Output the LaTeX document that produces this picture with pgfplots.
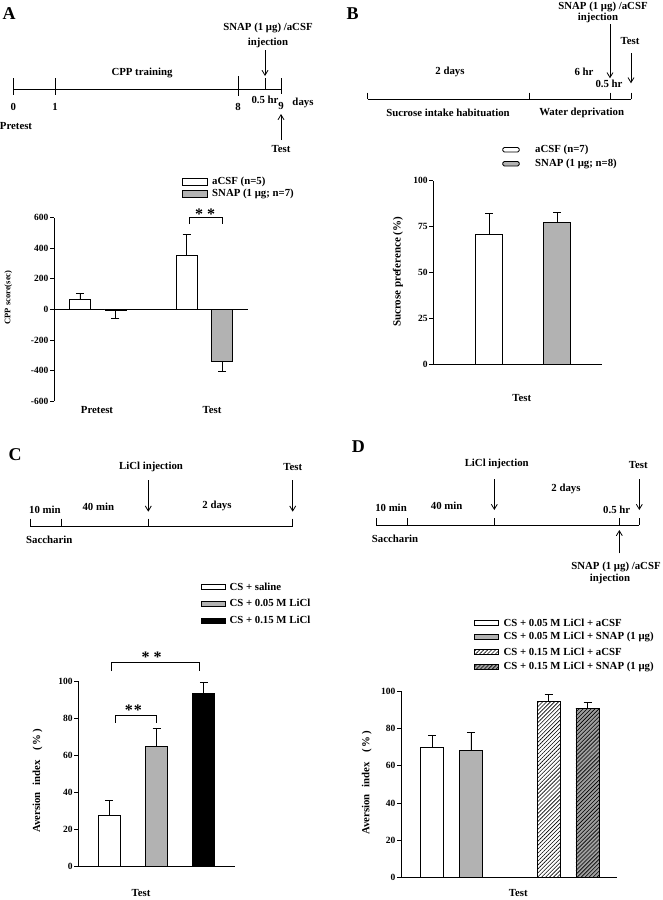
\documentclass[border=0pt]{standalone}
\usepackage{pgfplots}
\pgfplotsset{compat=1.18}
\usepackage{fontspec}
\setmainfont{Liberation Serif}
\usetikzlibrary{patterns.meta,arrows.meta}
\definecolor{bargray}{RGB}{178,178,178}
\definecolor{hatchgray}{RGB}{158,158,158}
\pgfplotsset{
  panel/.style={
    scale only axis, anchor=south west, clip=false,
    axis y line*=left, axis x line*=bottom,
    axis line style={black, line width=0.8pt},
    tick align=outside, major tick length=4pt,
    ytick style={black, line width=0.8pt},
    xtick=\empty,
    tick label style={font=\fontsize{9.5}{10}\selectfont\bfseries},
    yticklabel style={inner sep=1.5pt},
  },
  bars/.style={ybar, bar shift=0pt, draw=black, line width=0.8pt,
    error bars/.cd, y explicit, y dir=#1,
    error bar style={black, line width=0.8pt},
    error mark options={rotate=90, mark size=4pt, black, line width=0.8pt}},
}
\tikzset{hatch/.style={pattern={Lines[angle=45,distance=2.8pt,line width=0.6pt]}},
  arr/.style={line width=0.8pt,-{Straight Barb[length=5pt,width=6pt,line width=0.8pt]}},
  tl/.style={line width=0.8pt},
  stars/.style={font=\fontsize{16}{16}\selectfont\bfseries}}
\begin{document}
\begin{tikzpicture}[font=\fontsize{10.8}{12}\selectfont\bfseries]
\useasboundingbox (0,0) rectangle (663pt,-900pt);

% ---------------- Panel A axis
\begin{axis}[panel, at={(54pt,-401pt)}, width=194pt, height=183.3pt,
  xmin=-0.73, xmax=4.73, ymin=-600, ymax=600, axis x line=none,
  ytick={-600,-400,-200,0,200,400,600},
  yticklabels={-600,-400,-200,0,200,400,600}]
\draw[black, line width=0.8pt] (axis cs:-0.73,0) -- (axis cs:4.73,0);
\addplot[fill=white, bar width=21pt, bars=plus] coordinates {(0,65) +- (0,40) (3,355) +- (0,135)};
\addplot[fill=bargray, bar width=21pt, bars=minus] coordinates {(1,-5) +- (0,52) (4,-340) +- (0,68)};
\end{axis}

% ---------------- Panel B axis
\begin{axis}[panel, at={(433.3pt,-364.3pt)}, width=168.4pt, height=183.6pt,
  xmin=0.183, xmax=2.652, ymin=0, ymax=100,
  ytick={0,25,50,75,100}, yticklabels={0,25,50,75,100}]
\addplot[fill=white, bar width=27pt, bars=plus] coordinates {(1,70.5) +- (0,11.7)};
\addplot[fill=bargray, bar width=27pt, bars=plus] coordinates {(2,77.5) +- (0,5.3)};
\end{axis}

% ---------------- Panel C axis
\begin{axis}[panel, at={(78.3pt,-866.7pt)}, width=156.7pt, height=185.7pt,
  xmin=0.34, xmax=3.66, ymin=0, ymax=100,
  ytick={0,20,40,60,80,100}, yticklabels={0,20,40,60,80,100}]
\addplot[fill=white, bar width=22pt, bars=plus] coordinates {(1,27.5) +- (0,8)};
\addplot[fill=bargray, bar width=22pt, bars=plus] coordinates {(2,65) +- (0,9.5)};
\addplot[fill=black, bar width=22pt, bars=plus] coordinates {(3,93.4) +- (0,6)};
\end{axis}

% ---------------- Panel D axis
\begin{axis}[panel, at={(401pt,-877.3pt)}, width=215.7pt, height=186pt,
  xmin=0.2, xmax=5.75, ymin=0, ymax=100,
  ytick={0,20,40,60,80,100}, yticklabels={0,20,40,60,80,100}]
\addplot[fill=white, bar width=23.3pt, bars=plus] coordinates {(1,70) +- (0,6.5)};
\addplot[fill=bargray, bar width=23.3pt, bars=plus] coordinates {(2,68) +- (0,10)};
\addplot[fill=white, postaction={hatch}, bar width=23.3pt, bars=plus] coordinates {(4,94.5) +- (0,4)};
\addplot[fill=hatchgray, postaction={hatch}, bar width=23.3pt, bars=plus] coordinates {(5,90.6) +- (0,3.5)};
\end{axis}

\begin{scope}[x=1pt,y=-1pt]
% ================= Panel A
\node at (9,13.5) {\fontsize{18}{18}\selectfont A};
\draw[tl] (13.3,89) -- (281,89);
\draw[tl] (13.3,78) -- (13.3,95);
\draw[tl] (55,78) -- (55,95);
\draw[tl] (238,76) -- (238,96);
\draw[tl] (265,78) -- (265,89);
\draw[tl] (281,78) -- (281,94);
\node at (13.3,107) {0};
\node at (55,107) {1};
\node at (238,107) {8};
\node at (265,100) {0.5 hr};
\node at (281,106) {9};
\node at (303,103) {days};
\node at (16,126) {Pretest};
\node at (142,73) {CPP training};
\node at (268,28) {SNAP (1 μg) /aCSF};
\node at (268,43) {injection};
\draw[arr] (265,50) -- (265,76);
\draw[arr] (281,140) -- (281,114);
\node at (281,149) {Test};
% legend A
\draw[line width=0.8pt, fill=white] (182,178.3) rectangle (207,185);
\draw[line width=0.8pt, fill=bargray] (182,190.7) rectangle (207,197.3);
\node[anchor=west, inner sep=0pt] at (212,181.5) {aCSF (n=5)};
\node[anchor=west, inner sep=0pt] at (212,194) {SNAP (1 μg; n=7)};
% labels A
\node at (97,410) {Pretest};
\node at (212,410) {Test};
\node[rotate=90] at (8.3,297.5) {\fontsize{8.5}{9}\selectfont CPP score(sec)};
\draw[tl] (189,224) -- (189,217) -- (222,217) -- (222,224);
\node[stars] at (205,214) {*\hspace{4pt}*};

% ================= Panel B
\node at (352.5,13.7) {\fontsize{18}{18}\selectfont B};
\draw[tl] (367.7,99.3) -- (631,99.3);
\foreach \x in {367.7,529.3,610,631} \draw[tl] (\x,92.7) -- (\x,99.3);
\node at (450,72.3) {2 days};
\node at (584,72) {6 hr};
\node at (609,84.3) {0.5 hr};
\node at (448,113.3) {Sucrose intake habituation};
\node at (581.7,113) {Water deprivation};
\node at (603,6.5) {SNAP (1 μg) /aCSF};
\node at (598,18) {injection};
\draw[arr] (610,24) -- (610,78.3);
\node at (630,40.7) {Test};
\draw[arr] (631,53) -- (631,83.3);
% legend B
\draw[line width=0.8pt, fill=white, rounded corners=1.5pt] (502.7,147.5) rectangle (519.3,152);
\draw[line width=0.8pt, fill=bargray, rounded corners=1.5pt] (502.7,161.5) rectangle (519.3,166);
\node[anchor=west, inner sep=0pt] at (535,150) {aCSF (n=7)};
\node[anchor=west, inner sep=0pt] at (535,164.3) {SNAP (1 μg; n=8)};
\node at (521.7,398.3) {Test};
\node[rotate=90] at (398,272) {\fontsize{11}{12}\selectfont Sucrose preference (\%)};

% ================= Panel C
\node at (15,455) {\fontsize{18}{18}\selectfont C};
\draw[tl] (30,526.7) -- (292.7,526.7);
\foreach \x in {30,61,148.3,292.7} \draw[tl] (\x,518.7) -- (\x,526.7);
\node at (45,510) {10 min};
\node at (98.3,506.7) {40 min};
\node at (217,506) {2 days};
\node at (49.3,540) {Saccharin};
\node at (151,466.7) {LiCl injection};
\draw[arr] (148.3,480) -- (148.3,511.7);
\node at (292.7,467.3) {Test};
\draw[arr] (292.7,480) -- (292.7,511.7);
% legend C
\draw[line width=0.8pt, fill=white] (201.7,584.5) rectangle (225,589.5);
\draw[line width=0.8pt, fill=bargray] (201.7,601.5) rectangle (225,606.5);
\draw[line width=0.8pt, fill=black] (201.7,618) rectangle (225,623);
\node[anchor=west, inner sep=0pt] at (229.3,586.7) {CS + saline};
\node[anchor=west, inner sep=0pt] at (229.3,603.3) {CS + 0.05 M LiCl};
\node[anchor=west, inner sep=0pt] at (229.3,620) {CS + 0.15 M LiCl};
\node at (141,893) {Test};
\node[rotate=90] at (37.5,780.8) {Aversion\hspace{0.6em}index\hspace{0.9em}(\,\%\,)};
\draw[tl] (115,722.7) -- (115,715) -- (156.7,715) -- (156.7,722.7);
\node[stars] at (133.3,710) {*\hspace{1pt}*};
\draw[tl] (111,671) -- (111,662.7) -- (199.3,662.7) -- (199.3,671);
\node[stars] at (151.7,657) {*\hspace{4pt}*};

% ================= Panel D
\node at (358.3,446.7) {\fontsize{18}{18}\selectfont D};
\draw[tl] (376,525) -- (639.3,525);
\foreach \x in {376,407.7,494.3,619.3,639.3} \draw[tl] (\x,518) -- (\x,525);
\node at (391,507.3) {10 min};
\node at (446.7,505.3) {40 min};
\node at (566,488.7) {2 days};
\node at (616.7,510) {0.5 hr};
\node at (395,538.7) {Saccharin};
\node at (496.7,464.3) {LiCl injection};
\draw[arr] (494.3,479.3) -- (494.3,510);
\node at (638.3,465) {Test};
\draw[arr] (639.3,479) -- (639.3,510);
\draw[arr] (619.3,553.3) -- (619.3,530);
\node at (616,566.7) {SNAP (1 μg) /aCSF};
\node at (610,579) {injection};
% legend D
\draw[line width=0.8pt, fill=white] (474,620) rectangle (498.3,625);
\draw[line width=0.8pt, fill=bargray] (474,634.2) rectangle (498.3,639.2);
\draw[line width=0.8pt, fill=white, postaction={hatch}] (474,649.7) rectangle (498.3,654.7);
\draw[line width=0.8pt, fill=hatchgray, postaction={hatch}] (474,664.2) rectangle (498.3,669.2);
\node[anchor=west, inner sep=0pt] at (503.3,622.5) {CS + 0.05 M LiCl + aCSF};
\node[anchor=west, inner sep=0pt] at (503.3,636.7) {CS + 0.05 M LiCl + SNAP (1 μg)};
\node[anchor=west, inner sep=0pt] at (503.3,652.2) {CS + 0.15 M LiCl + aCSF};
\node[anchor=west, inner sep=0pt] at (503.3,666.7) {CS + 0.15 M LiCl + SNAP (1 μg)};
\node at (518.3,893) {Test};
\node[rotate=90] at (366.7,783) {Aversion\hspace{0.6em}index\hspace{0.9em}(\,\%\,)};
\end{scope}
\end{tikzpicture}
\end{document}
